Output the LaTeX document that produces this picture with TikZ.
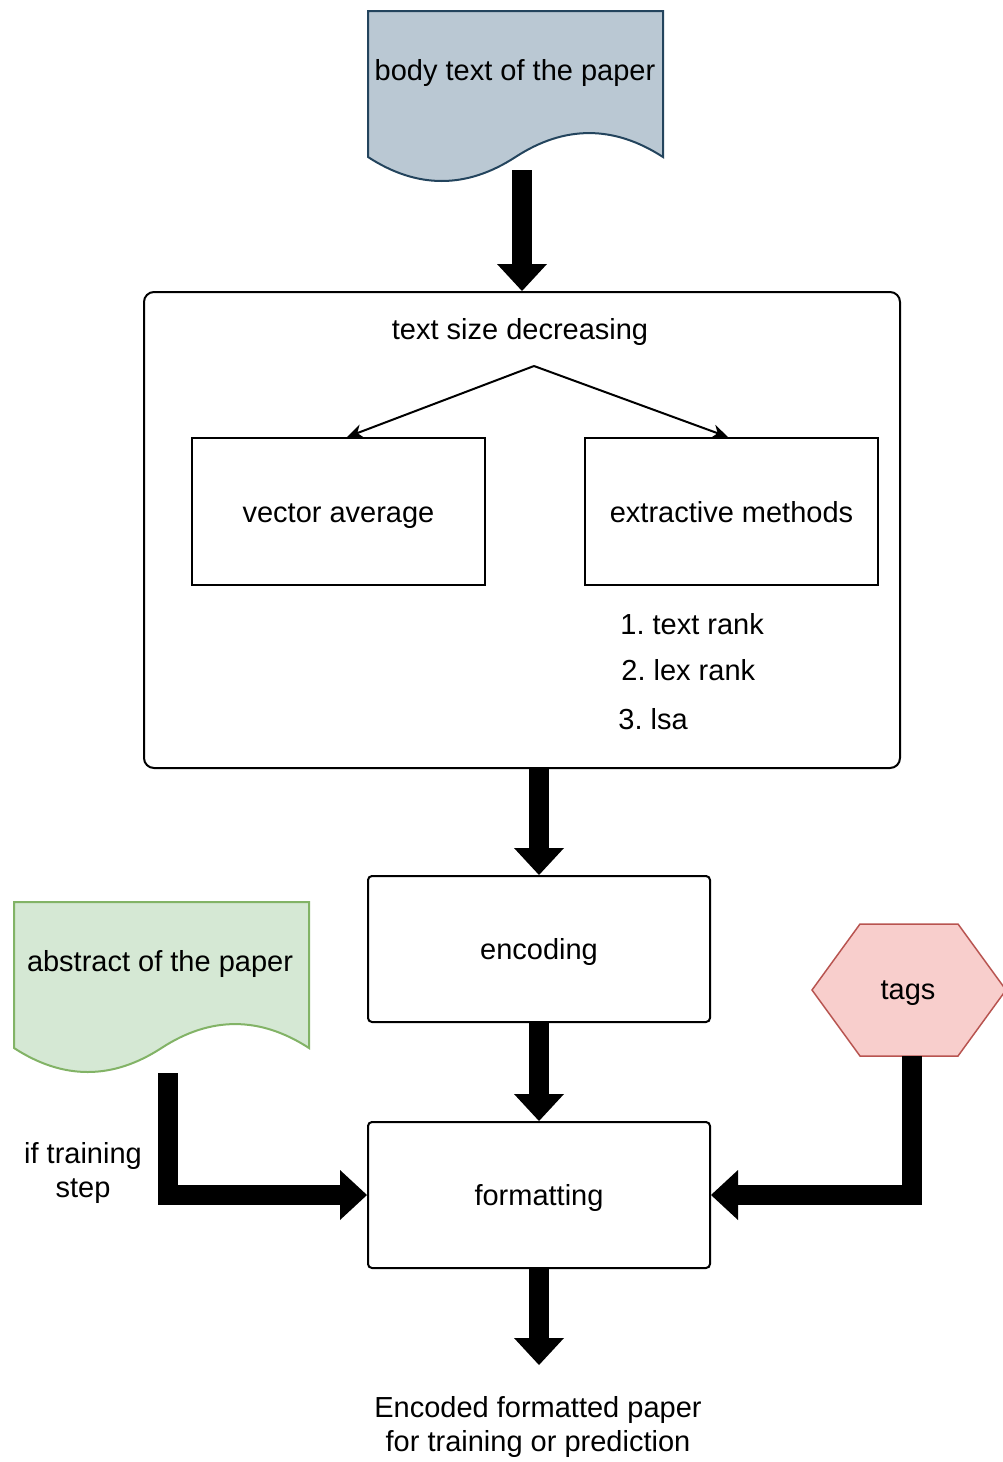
\documentclass[tikz,border=0pt]{standalone}
\usepackage{fontspec}
\setmainfont{Liberation Sans}
\usetikzlibrary{arrows.meta}
\definecolor{bodyfill}{HTML}{BAC8D3}
\definecolor{bodyline}{HTML}{23445D}
\definecolor{absfill}{HTML}{D5E8D4}
\definecolor{absline}{HTML}{82B366}
\definecolor{tagfill}{HTML}{F8CECC}
\definecolor{tagline}{HTML}{B85450}
\tikzset{
  % document shape with a wavy bottom edge, 295 units wide
  paperdoc/.pic={
    \path[pic actions] (0,0) -- (295,0) -- (295,146)
      .. controls (245.7,114.1) and (196.5,114.1) .. (147.5,146)
      .. controls (98.3,178) and (49.2,178) .. (0,146) -- cycle;
  },
  label/.style={inner sep=0pt, align=center},
  oneline/.style={text height=10.6pt, text depth=0pt},
  box/.style={draw, line width=1pt, inner sep=0pt, align=center, oneline},
  stagebox/.style={box, rounded corners=5pt},
  procbox/.style={box, rounded corners=2pt, minimum width=171pt, minimum height=73pt},
  methodbox/.style={box, minimum width=146.5pt, minimum height=73.5pt},
  thinarrow/.style={line width=1pt, -{Stealth[length=8pt,width=7pt,inset=2.5pt]}},
  bigarrow/.style={line width=10pt, -{Triangle[length=13.5pt,width=25pt,line width=0pt]}},
}
\begin{document}
\frenchspacing
\begin{tikzpicture}[x=0.5pt, y=-0.5pt, font=\fontsize{14.5}{17}\selectfont]
  \useasboundingbox (0,0) rectangle (1002,1462);

  % input documents
  \pic[draw=bodyline, fill=bodyfill, line width=1pt] at (368,11) {paperdoc};
  \node[label, oneline] (body) at (515,70) {body text of the paper};
  \coordinate (bodyout) at (522,170);

  \pic[draw=absline, fill=absfill, line width=1pt] at (14,902) {paperdoc};
  \node[label, oneline] (abstract) at (160,961) {abstract of the paper};
  \coordinate (absout) at (168,1073);

  % tags hexagon
  \draw[draw=tagline, fill=tagfill, line width=0.75pt]
    (812,990) -- (860,924) -- (958,924) -- (1006,990) -- (958,1056) -- (860,1056) -- cycle;
  \node[label, oneline] (tags) at (908,989) {tags};
  \coordinate (tagsout) at (912,1056);

  % text size decreasing stage
  \node[stagebox, minimum width=378pt, minimum height=238pt] (stage) at (522,530) {};
  \node[label, oneline] (title) at (520,329) {text size decreasing};
  \coordinate (split) at (534,366);
  \node[methodbox] (vec) at (338.5,511.5) {vector average};
  \node[methodbox] (ext) at (731.5,511.5) {extractive methods};
  \node[label, anchor=west] (r1) at (620,624) {1. text rank};
  \node[label, anchor=west] (r2) at (621,670) {2. lex rank};
  \node[label, anchor=west] (r3) at (618,719) {3. lsa};
  \draw[thinarrow] (split) -- ([xshift=4.25pt]vec.north);
  \draw[thinarrow] (split) -- ([xshift=-1.75pt]ext.north);

  % processing steps
  \node[procbox] (enc) at (539,949) {encoding};
  \node[procbox] (fmt) at (539,1195) {formatting};
  \node[label] (cond) at (83,1173) {if training\\step};
  \node[label, anchor=north] (result) at (538,1396)
    {Encoded formatted paper\\for training or prediction};

  % flow
  \draw[bigarrow] (bodyout) -- (stage.north -| bodyout);
  \draw[bigarrow] (stage.south -| enc) -- (enc.north);
  \draw[bigarrow] (enc.south) -- (fmt.north);
  \draw[bigarrow] (absout) |- (fmt.west);
  \draw[bigarrow] (tagsout) |- (fmt.east);
  \draw[bigarrow] (fmt.south) -- ([yshift=15.5pt]result.north -| fmt.south);
\end{tikzpicture}
\end{document}
